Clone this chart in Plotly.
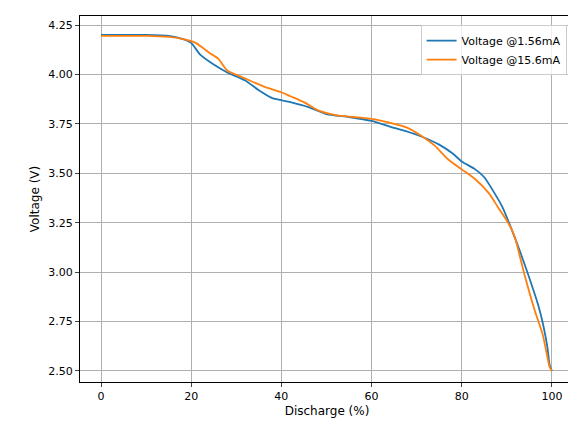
import plotly.graph_objects as go

x_low = [0, 10, 15, 18, 20, 22, 25, 28, 32, 35, 38, 42, 46, 50, 55, 60, 65, 70, 75, 78,
         80, 83, 85, 87, 89, 91, 93, 95, 97, 98, 99, 99.5, 100]
v_low = [4.20, 4.20, 4.195, 4.18, 4.16, 4.10, 4.05, 4.01, 3.97, 3.92, 3.88, 3.86, 3.835, 3.80,
         3.785, 3.765, 3.73, 3.695, 3.645, 3.60, 3.56, 3.52, 3.48, 3.41, 3.33, 3.22, 3.10,
         2.97, 2.83, 2.74, 2.62, 2.53, 2.50]

x_high = [0, 10, 15, 18, 21, 24, 26, 28, 32, 36, 40, 42, 45, 48, 52, 56, 60, 65, 68, 71,
          74, 77, 80, 83, 86, 88, 90, 91, 92, 93, 94, 96, 98, 99, 99.5, 100]
v_high = [4.195, 4.195, 4.19, 4.18, 4.16, 4.11, 4.08, 4.02, 3.98, 3.94, 3.91, 3.89, 3.86,
          3.82, 3.795, 3.785, 3.775, 3.75, 3.73, 3.69, 3.64, 3.57, 3.52, 3.47, 3.40, 3.33,
          3.26, 3.22, 3.16, 3.07, 2.98, 2.82, 2.68, 2.57, 2.52, 2.50]

fig = go.Figure()
fig.add_trace(go.Scatter(x=x_low, y=v_low, mode="lines", name="Voltage @1.56mA",
                         line=dict(color="#1f77b4", width=1.8, shape="spline", smoothing=0.6)))
fig.add_trace(go.Scatter(x=x_high, y=v_high, mode="lines", name="Voltage @15.6mA",
                         line=dict(color="#ff7f0e", width=1.8, shape="spline", smoothing=0.6)))

axis = dict(showline=True, linecolor="black", mirror=True, ticks="outside", ticklen=4,
            showgrid=True, gridcolor="#b0b0b0", zeroline=False, automargin=False,
            tickfont=dict(size=11, color="black"), title_font=dict(size=12, color="black"))

fig.update_layout(
    width=576, height=433,
    margin=dict(l=72, r=10, t=8, b=59),
    plot_bgcolor="white", paper_bgcolor="white",
    font=dict(family="DejaVu Sans", color="black"),
    xaxis=dict(axis, range=[-4.66, 104.9], tickvals=[0, 20, 40, 60, 80, 100],
               title=dict(text="Discharge (%)", standoff=4)),
    yaxis=dict(axis, range=[2.444, 4.296],
               tickvals=[2.5, 2.75, 3.0, 3.25, 3.5, 3.75, 4.0, 4.25], tickformat=".2f",
               title=dict(text="Voltage (V)", standoff=6)),
    legend=dict(x=0.985, y=0.975, xanchor="right", yanchor="top",
                bordercolor="#cccccc", borderwidth=1, bgcolor="rgba(255,255,255,0.8)",
                font=dict(size=11)),
)

fig.write_html("out.html")
